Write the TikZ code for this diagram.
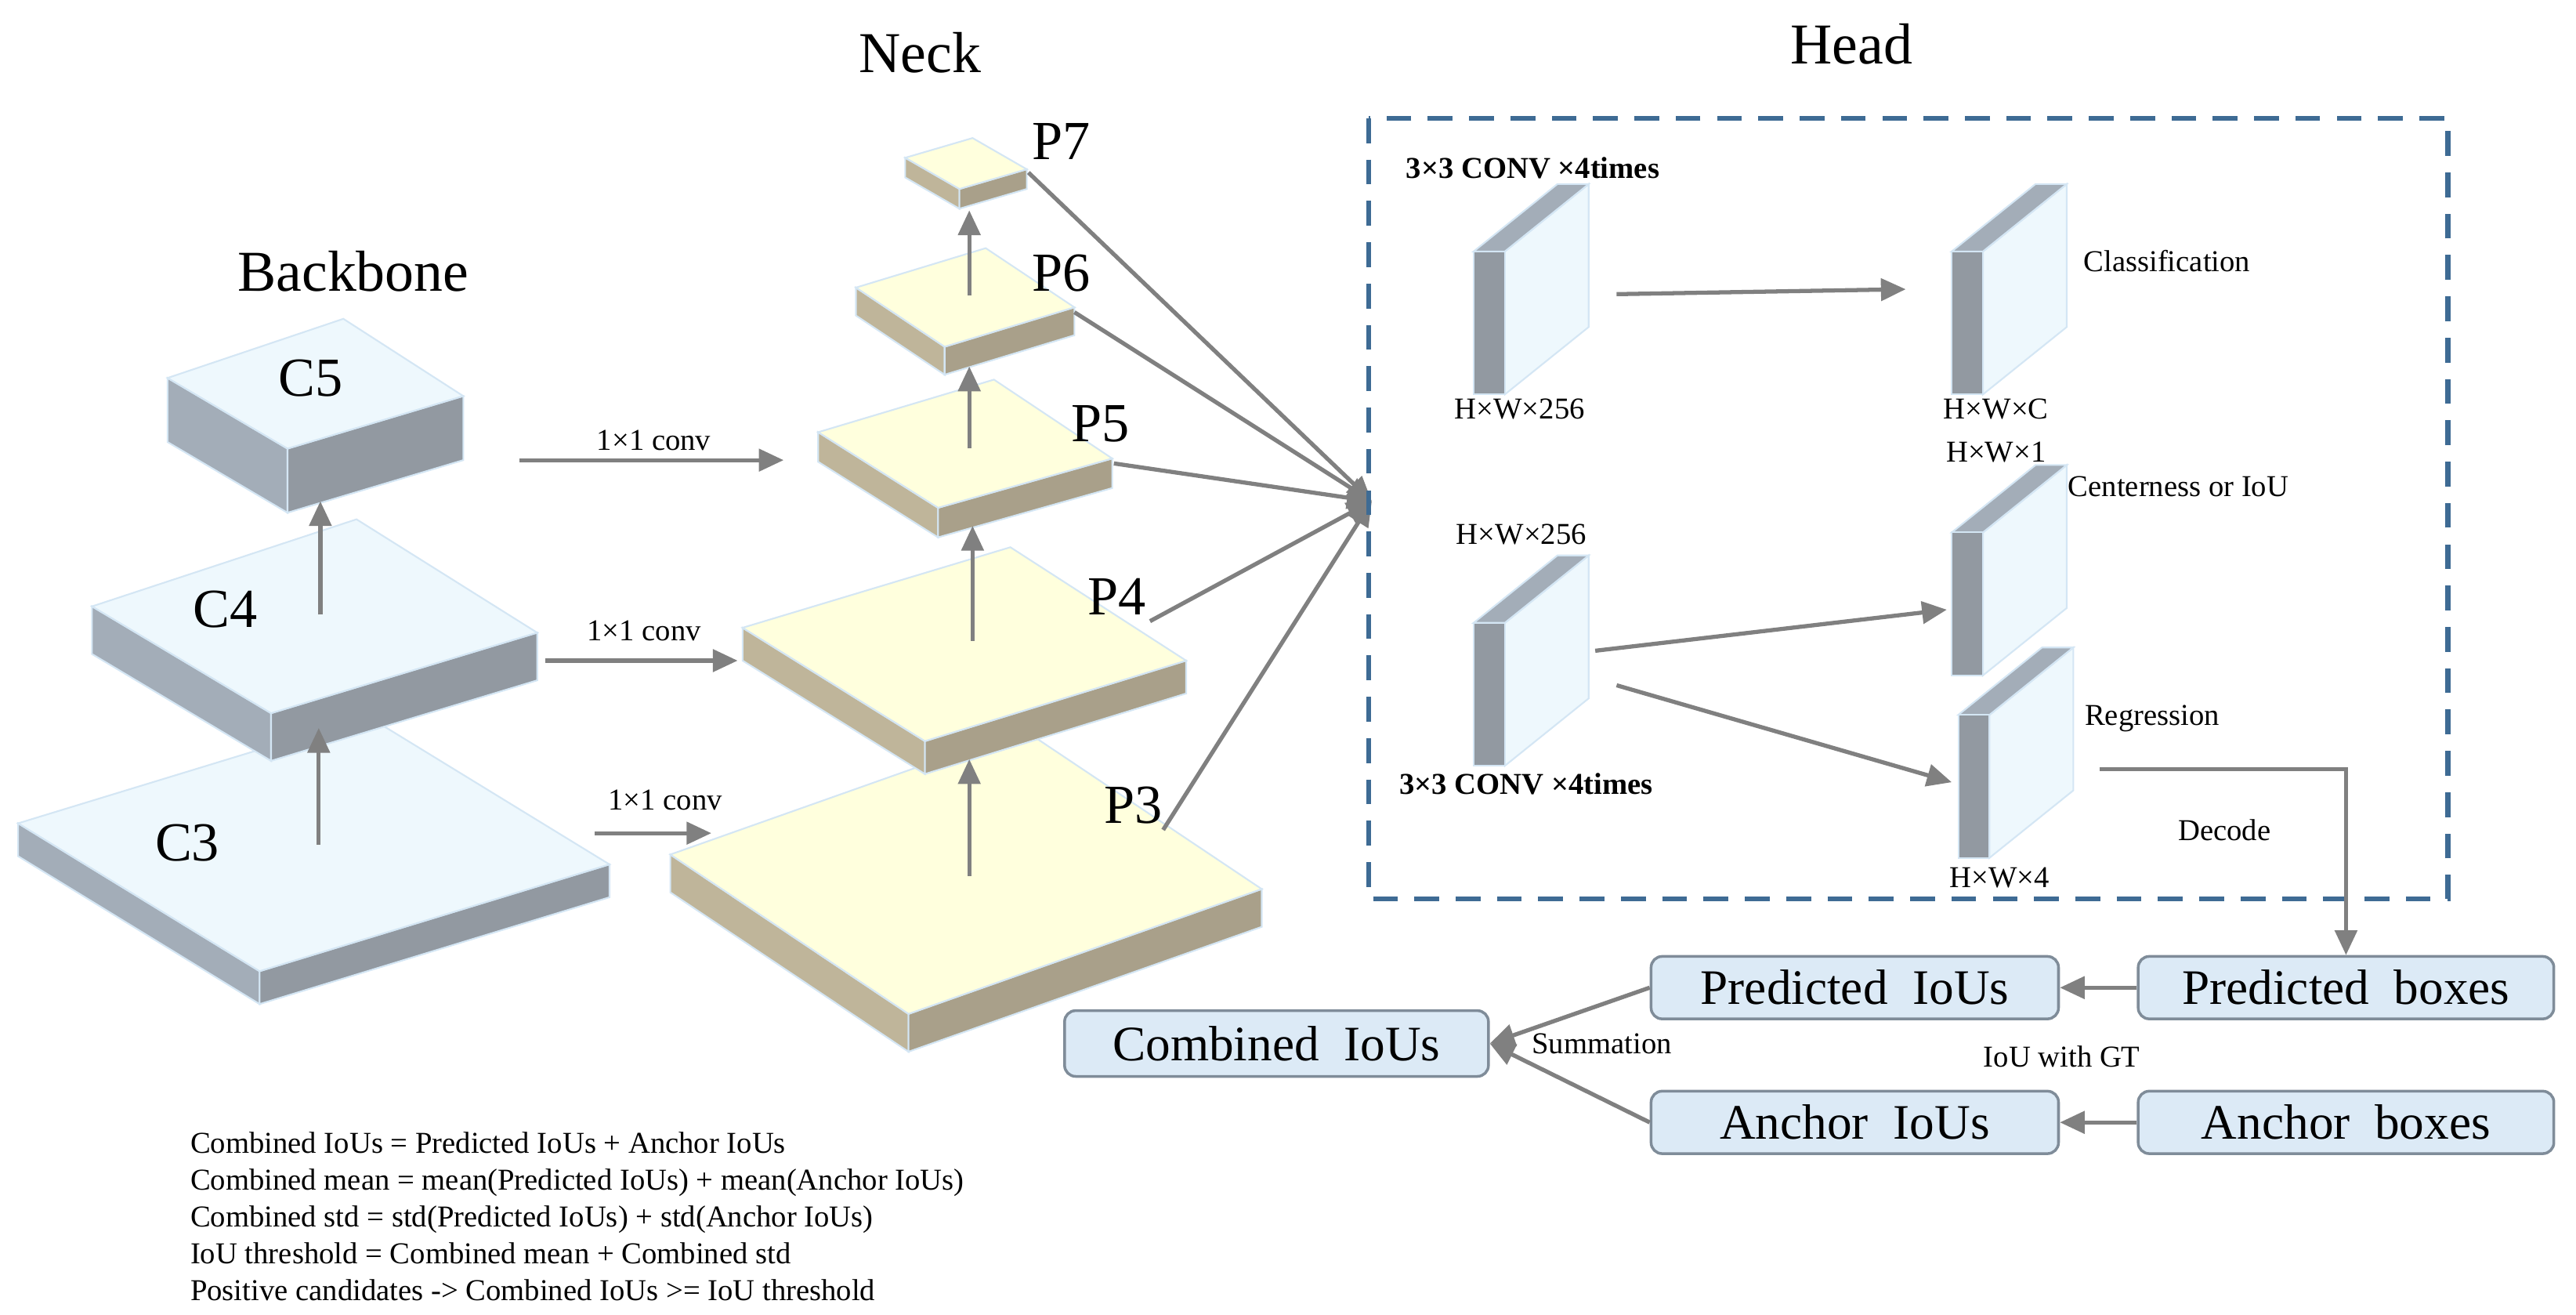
\documentclass[tikz,border=0pt]{standalone}
\usepackage{fontspec}
\setmainfont{Liberation Serif}
\usetikzlibrary{calc,arrows.meta}
\definecolor{btop}{HTML}{EEF8FD}\definecolor{bl}{HTML}{A3ADB8}\definecolor{br}{HTML}{9299A1}
\definecolor{ntop}{HTML}{FFFFDD}\definecolor{nl}{HTML}{BFB59A}\definecolor{nr}{HTML}{A9A08A}
\definecolor{edge}{HTML}{D4E6F4}\definecolor{arr}{HTML}{808080}\definecolor{dashc}{HTML}{3E6B94}
\definecolor{boxf}{HTML}{DCEAF6}\definecolor{boxd}{HTML}{7F8C99}
\newcommand\slab[7]{%
 \fill[#7,draw=edge,line width=0.6pt] (#1) -- (#4) -- ($(#4)+(0,#5)$) -- ($(#1)+(0,#5)$) -- cycle;
 \fill[#6,draw=edge,line width=0.6pt] (#4) -- (#3) -- ($(#3)+(0,#5)$) -- ($(#4)+(0,#5)$) -- cycle;}
\newcommand\slabtop[5]{\fill[#5,draw=edge,line width=0.6pt] (#1) -- (#2) -- (#3) -- (#4) -- cycle;}
\newcommand\plate[2]{%
 \fill[btop,draw=edge,line width=0.6pt] (#1+19,#2) -- ++(51,-41) -- ++(0,87) -- ++(-51,41) -- cycle;
 \fill[bl,draw=edge,line width=0.6pt] (#1,#2) -- ++(51,-41) -- ++(19,0) -- ++(-51,41) -- cycle;
 \fill[br,draw=edge,line width=0.6pt] (#1,#2) rectangle ++(19,87);}
\begin{document}
\begin{tikzpicture}[x=0.02097cm,y=-0.02097cm,
 ar/.style={draw=arr,line width=1.5pt,-{Triangle[length=9pt,width=8pt]}},
 ttl/.style={font=\fontsize{21}{24}\selectfont},
 lab/.style={font=\fontsize{20}{22}\selectfont},
 sm/.style={font=\fontsize{11}{13}\selectfont},
 box/.style={draw=boxd,fill=boxf,rounded corners=4pt,line width=1pt,minimum width=248*0.02097cm,minimum height=38*0.02097cm,font=\fontsize{18}{20}\selectfont}]
\useasboundingbox (0,0) rectangle (1568,800);
% backbone
\slab{11,501}{224,436}{371,526}{158,591}{20}{br}{bl}
\slabtop{11,501}{224,436}{371,526}{158,591}{btop}
\slab{56,369}{217,316}{327,385}{165,434}{29}{br}{bl}
\slabtop{56,369}{217,316}{327,385}{165,434}{btop}
\slab{102,230}{209,194}{282,241}{175,273}{39}{br}{bl}
\slabtop{102,230}{209,194}{282,241}{175,273}{btop}
% neck
\slab{408,520}{623,444}{768,541}{553,617}{23}{nr}{nl}
\slabtop{408,520}{623,444}{768,541}{553,617}{ntop}
\slab{452,382}{615,333}{722,402}{563,451}{20}{nr}{nl}
\slabtop{452,382}{615,333}{722,402}{563,451}{ntop}
\slab{498,263}{605,231}{677,279}{571,309}{18}{nr}{nl}
\slabtop{498,263}{605,231}{677,279}{571,309}{ntop}
\slab{521,175}{600,151}{654,187}{575,211}{17}{nr}{nl}
\slabtop{521,175}{600,151}{654,187}{575,211}{ntop}
\slab{551,96}{592,84}{625,103}{584,115}{12}{nr}{nl}
\slabtop{551,96}{592,84}{625,103}{584,115}{ntop}
% titles and labels
\node[ttl] (tb) at (215,165) {Backbone};
\node[ttl] (tn) at (560,32) {Neck};
\node[ttl] (th) at (1127,27) {Head};
\node[lab] (c5) at (189,230) {C5};
\node[lab] (c4) at (137,371) {C4};
\node[lab] (c3) at (114,513) {C3};
\node[lab] (p7) at (646,86) {P7};
\node[lab] (p6) at (646,166) {P6};
\node[lab] (p5) at (670,258) {P5};
\node[lab] (p4) at (680,363) {P4};
\node[lab] (p3) at (690,490) {P3};
% up arrows
\coordinate (u1a) at (194,514); \coordinate (u1b) at (194,443);
\coordinate (u2a) at (195,374); \coordinate (u2b) at (195,305);
\coordinate (u3a) at (590,533); \coordinate (u3b) at (590,462);
\coordinate (u4a) at (592,390); \coordinate (u4b) at (592,320);
\coordinate (u5a) at (590,273); \coordinate (u5b) at (590,223);
\coordinate (u6a) at (590,180); \coordinate (u6b) at (590,128);
\foreach \i in {1,...,6} \draw[ar] (u\i a) -- (u\i b);
% lateral
\coordinate (h5a) at (316,280); \coordinate (h5b) at (477,280);
\coordinate (h4a) at (332,402); \coordinate (h4b) at (449,402);
\coordinate (h3a) at (362,507); \coordinate (h3b) at (433,507);
\foreach \i in {3,4,5} \draw[ar] (h\i a) -- (h\i b);
\node[sm] (l5) at (398,268) {1×1 conv};
\node[sm] (l4) at (392,384) {1×1 conv};
\node[sm] (l3) at (405,487) {1×1 conv};
% to head
\coordinate (hin) at (835,305);
\coordinate (o7) at (626,105); \coordinate (o6) at (654,190); \coordinate (o5) at (678,282);
\coordinate (o4) at (700,378); \coordinate (o3) at (708,505);
\foreach \i in {3,...,7} \draw[ar] (o\i) -- (hin);
% head box
\draw[dashc,line width=1.8pt,dash pattern=on 9pt off 6pt] (833,72) rectangle (1490,547);
\plate{897}{153}\plate{1188}{153}\plate{897}{379}\plate{1188}{324}\plate{1192}{435}
\node[sm,font=\fontsize{11}{13}\selectfont\bfseries] (k1) at (933,102) {3×3 CONV ×4times};
\node[sm,font=\fontsize{11}{13}\selectfont\bfseries] (k2) at (929,477) {3×3 CONV ×4times};
\node[sm] (d1) at (925,249) {H×W×256};
\node[sm] (d2) at (926,325) {H×W×256};
\node[sm] (d3) at (1215,249) {H×W×C};
\node[sm] (d4) at (1215,275) {H×W×1};
\node[sm] (d5) at (1217,534) {H×W×4};
\node[sm] (n1) at (1319,159) {Classification};
\node[sm] (n2) at (1326,296) {Centerness or IoU};
\node[sm] (n3) at (1310,437) {Regression};
\node[sm] (n4) at (1354,505) {Decode};
\coordinate (a1) at (984,179); \coordinate (b1) at (1160,176);
\coordinate (a2) at (971,396); \coordinate (b2) at (1185,371);
\coordinate (a3) at (984,417); \coordinate (b3) at (1188,476);
\foreach \i in {1,2,3} \draw[ar] (a\i) -- (b\i);
% bottom boxes
\node[box] (pi) at (1129,601) {Predicted\ \ IoUs};
\node[box,minimum width=253*0.02097cm] (pb) at (1428,601) {Predicted\ \ boxes};
\node[box] (ai) at (1129,683) {Anchor\ \ IoUs};
\node[box,minimum width=253*0.02097cm] (ab) at (1428,683) {Anchor\ \ boxes};
\node[box,minimum width=258*0.02097cm,minimum height=40*0.02097cm] (ci) at (777,635) {Combined\ \ IoUs};
\coordinate (dc) at (1278,468);
\draw[ar] (dc) -| (pb.north);
\draw[ar] (pb) -- (pi);
\draw[ar] (ab) -- (ai);
\draw[ar] (pi.west) -- (ci.east);
\draw[ar] (ai.west) -- (ci.east);
\node[sm] (sum) at (975,635) {Summation};
\node[sm] (gt) at (1255,643) {IoU with GT};
\node[sm,align=left,anchor=north west,font=\fontsize{11}{13.4}\selectfont] (fm) at (110,683) {Combined IoUs = Predicted IoUs + Anchor IoUs\\Combined mean = mean(Predicted IoUs) + mean(Anchor IoUs)\\Combined std = std(Predicted IoUs) + std(Anchor IoUs)\\IoU threshold = Combined mean + Combined std\\Positive candidates -> Combined IoUs >= IoU threshold};
\end{tikzpicture}
\end{document}
